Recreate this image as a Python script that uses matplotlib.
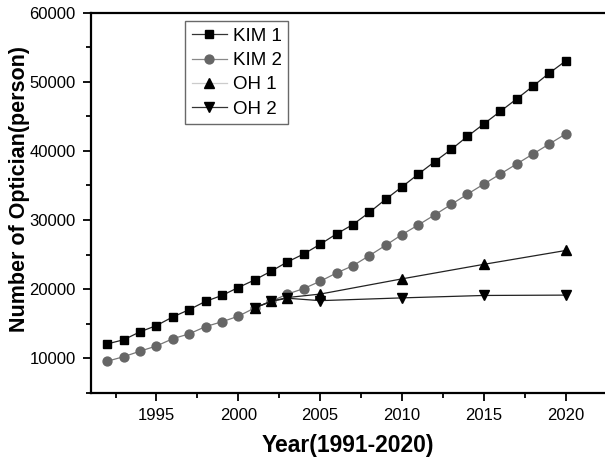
import matplotlib.pyplot as plt
from matplotlib.lines import Line2D
from matplotlib.ticker import MultipleLocator

plt.rcParams['font.family'] = ['Liberation Sans', 'DejaVu Sans']

# data
kim_years = list(range(1992, 2021))
kim1 = [12100, 12700, 13850, 14750, 16000, 17050, 18250, 19100, 20250, 21350,
        22600, 23950, 25100, 26500, 28000, 29350, 31100, 33000, 34800, 36650,
        38450, 40200, 42100, 43900, 45700, 47500, 49350, 51250, 53000]
kim2 = [9600, 10250, 11050, 11800, 12850, 13550, 14600, 15300, 16100, 17300,
        18250, 19300, 20100, 21150, 22350, 23400, 24850, 26350, 27900, 29300,
        30750, 32250, 33750, 35200, 36650, 38100, 39550, 41000, 42450]
oh_years = [2001, 2002, 2003, 2005, 2010, 2015, 2020]
oh1 = [17300, 18250, 18800, 19300, 21500, 23600, 25600]
oh2 = [17300, 18250, 18700, 18350, 18750, 19100, 19150]

fig = plt.figure(figsize=(6.05, 4.58), dpi=100)
ax = fig.add_axes([0.1504, 0.1419, 0.8496, 0.8308])

ax.plot(kim_years, kim1, color='#222222', lw=0.9, marker='s', ms=5.8,
        mfc='black', mec='black')
ax.plot(kim_years, kim2, color='#777777', lw=0.9, marker='o', ms=6.4,
        mfc='#666666', mec='#666666')
ax.plot(oh_years, oh1, color='#222222', lw=0.9, marker='^', ms=7.5,
        mfc='black', mec='black')
ax.plot(oh_years, oh2, color='#222222', lw=0.9, marker='v', ms=7.5,
        mfc='black', mec='black')

ax.set_xlim(1991, 2022.4)
ax.set_ylim(5000, 60000)
ax.xaxis.set_major_locator(MultipleLocator(5))
ax.xaxis.set_minor_locator(MultipleLocator(2.5))
ax.yaxis.set_major_locator(MultipleLocator(10000))
ax.yaxis.set_minor_locator(MultipleLocator(5000))
ax.set_xticks([1995, 2000, 2005, 2010, 2015, 2020])

ax.spines['right'].set_visible(False)
for s in ['left', 'bottom', 'top']:
    ax.spines[s].set_linewidth(1.6)
ax.tick_params(which='major', direction='out', length=6, width=1.3,
               labelsize=12, top=False, right=False, pad=5)
ax.tick_params(which='minor', direction='out', length=3.5, width=1.3,
               top=False, right=False)

ax.set_xlabel('Year(1991-2020)', fontsize=16.5, fontweight='bold', labelpad=8)
ax.set_ylabel('Number of Optician(person)', fontsize=15.5, fontweight='bold')
ax.yaxis.set_label_coords(-0.119, 0.537)

handles = [
    Line2D([], [], color='#333333', lw=0.9, marker='s', ms=5.8, mfc='black', mec='black'),
    Line2D([], [], color='#888888', lw=0.9, marker='o', ms=6.4, mfc='#666666', mec='#666666'),
    Line2D([], [], color='#cccccc', lw=0.9, marker='^', ms=7, mfc='black', mec='black'),
    Line2D([], [], color='#333333', lw=0.9, marker='v', ms=7, mfc='black', mec='black'),
]
leg = ax.legend(handles, ['KIM 1', 'KIM 2', 'OH 1', 'OH 2'], loc='upper left',
                bbox_to_anchor=(0.183, 0.977), fontsize=13.5, frameon=True,
                fancybox=False, edgecolor='#444444', handlelength=1.9,
                handletextpad=0.3, borderpad=0.35, labelspacing=0.38,
                borderaxespad=0)
leg.get_frame().set_linewidth(1.0)

fig.savefig('out.png', dpi=100)
